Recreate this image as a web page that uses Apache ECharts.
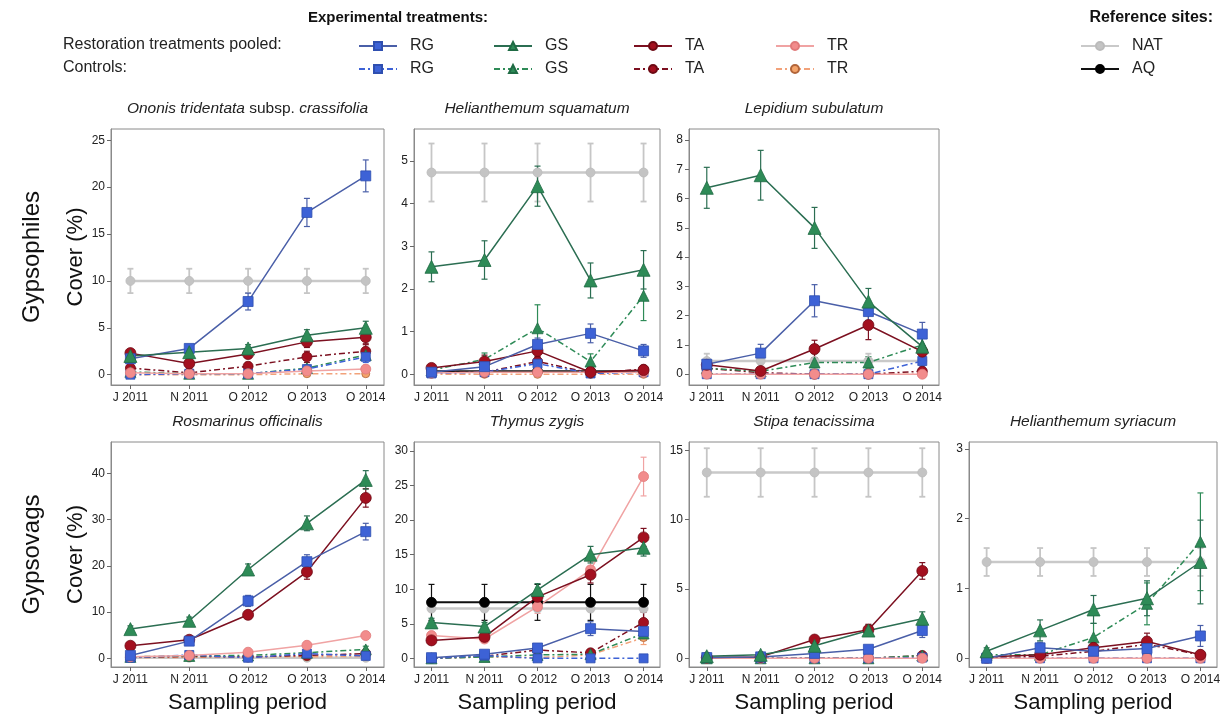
<!DOCTYPE html>
<html>
<head>
<meta charset="utf-8">
<script src="https://cdn.jsdelivr.net/npm/echarts@6/dist/echarts.min.js"></script>
<style>
html,body{margin:0;padding:0;background:#fff}
#chart{width:1225px;height:717px}
</style>
</head>
<body>
<div id="chart"></div>
<script>
// Sampling periods (x axis)
const periods = ['J 2011', 'N 2011', 'O 2012', 'O 2013', 'O 2014'];

// Row order of every mean / SE table below
const groupKeys = ['RG', 'GS', 'TA', 'TR', 'RGc', 'GSc', 'TAc', 'TRc', 'NAT', 'AQ'];

// ---- Ononis tridentata subsp. crassifolia ----
const ononisTicks = [0, 5, 10, 15, 20, 25];
const ononisMean = [
  [1.7, 2.8, 7.8, 17.3, 21.2],
  [2.0, 2.4, 2.8, 4.2, 5.0],
  [2.3, 1.2, 2.2, 3.5, 4.0],
  [0.2, 0.1, 0.1, 0.4, 0.6],
  [0.0, 0.1, 0.1, 0.6, 1.9],
  [0.3, 0.1, 0.1, 0.7, 2.1],
  [0.7, 0.2, 0.9, 1.9, 2.5],
  [0.0, 0.0, 0.0, 0.1, 0.1],
  [10.0, 10.0, 10.0, 10.0, 10.0],
  null
];
const ononisSE = [
  [0.4, 0.4, 0.9, 1.5, 1.7],
  [0.3, 0.3, 0.4, 0.6, 0.7],
  [0.3, 0.3, 0.4, 0.6, 0.7],
  [0.1, 0.1, 0.1, 0.2, 0.2],
  [0.0, 0.05, 0.1, 0.3, 0.6],
  [0.2, 0.1, 0.1, 0.3, 0.5],
  [0.3, 0.1, 0.4, 0.6, 0.7],
  [0, 0, 0, 0, 0],
  [1.3, 1.3, 1.3, 1.3, 1.3],
  null
];

// ---- Helianthemum squamatum ----
const squamatumTicks = [0, 1, 2, 3, 4, 5];
const squamatumMean = [
  [0.05, 0.18, 0.70, 0.96, 0.55],
  [2.52, 2.68, 4.41, 2.20, 2.45],
  [0.15, 0.30, 0.55, 0.05, 0.10],
  [0.03, 0.05, 0.05, 0.05, 0.05],
  [0.02, 0.05, 0.25, 0.02, 0.05],
  [0.10, 0.35, 1.08, 0.30, 1.84],
  [0.05, 0.05, 0.30, 0.03, 0.12],
  [0, 0, 0, 0, 0],
  [4.73, 4.73, 4.73, 4.73, 4.73],
  [0.07, 0.07, 0.07, 0.07, 0.07]
];
const squamatumSE = [
  [0.03, 0.10, 0.15, 0.22, 0.15],
  [0.35, 0.45, 0.47, 0.41, 0.45],
  [0.08, 0.15, 0.15, 0.05, 0.08],
  [0, 0, 0, 0, 0],
  [0, 0, 0.1, 0, 0],
  [0.08, 0.15, 0.55, 0.18, 0.58],
  [0, 0, 0.12, 0, 0.05],
  [0, 0, 0, 0, 0],
  [0.68, 0.68, 0.68, 0.68, 0.68],
  [0, 0, 0, 0, 0]
];

// ---- Lepidium subulatum ----
const lepidiumTicks = [0, 1, 2, 3, 4, 5, 6, 7, 8];
const lepidiumMean = [
  [0.34, 0.72, 2.51, 2.14, 1.37],
  [6.37, 6.80, 5.00, 2.48, 0.94],
  [0.32, 0.11, 0.86, 1.68, 0.77],
  [0, 0, 0, 0, 0],
  [0, 0, 0, 0, 0.45],
  [0.20, 0.10, 0.40, 0.40, 1.00],
  [0.20, 0.05, 0.00, 0.00, 0.10],
  [0, 0, 0, 0, 0],
  [0.45, 0.45, 0.45, 0.45, 0.45],
  null
];
const lepidiumSE = [
  [0.10, 0.30, 0.55, 0.30, 0.40],
  [0.70, 0.85, 0.70, 0.45, 0.30],
  [0.10, 0.05, 0.30, 0.50, 0.20],
  [0, 0, 0, 0, 0],
  [0, 0, 0, 0, 0.2],
  [0.1, 0.05, 0.15, 0.2, 0.3],
  [0.1, 0, 0, 0, 0.05],
  [0, 0, 0, 0, 0],
  [0.25, 0.25, 0.25, 0.25, 0.25],
  null
];

// ---- Rosmarinus officinalis ----
const rosmarinusTicks = [0, 10, 20, 30, 40];
const rosmarinusMean = [
  [0.6, 3.7, 12.4, 20.9, 27.4],
  [6.3, 8.1, 19.2, 29.2, 38.6],
  [2.7, 4.0, 9.4, 18.7, 34.7],
  [0.3, 0.6, 1.3, 2.8, 4.9],
  [0.1, 0.7, 0.1, 1.0, 0.5],
  [0.3, 0.5, 0.6, 1.2, 1.9],
  [0.2, 0.4, 0.3, 0.6, 1.0],
  [0.1, 0.2, 0.3, 0.3, 0.4],
  [0.1, 0.1, 0.1, 0.1, 0.1],
  null
];
const rosmarinusSE = [
  [0.3, 0.5, 1.2, 1.5, 1.8],
  [0.7, 0.8, 1.2, 1.6, 2.0],
  [0.4, 0.5, 0.8, 1.6, 2.0],
  [0.2, 0.3, 0.4, 0.6, 0.8],
  [0, 0.3, 0, 0.4, 0.3],
  [0.2, 0.2, 0.3, 0.5, 0.7],
  [0.1, 0.2, 0.2, 0.3, 0.4],
  [0, 0, 0, 0, 0],
  [0, 0, 0, 0, 0],
  null
];

// ---- Thymus zygis ----
const thymusTicks = [0, 5, 10, 15, 20, 25, 30];
const thymusMean = [
  [0.1, 0.6, 1.5, 4.3, 3.9],
  [5.2, 4.6, 9.9, 15.0, 16.0],
  [2.6, 3.1, 8.9, 12.1, 17.5],
  [3.3, 2.8, 7.5, 12.8, 26.3],
  [0.0, 0.4, 0.0, 0.0, 0.0],
  [0.0, 0.2, 0.5, 0.6, 3.6],
  [0.0, 0.3, 1.2, 0.8, 5.2],
  [0.0, 0.2, 0.1, 0.5, 3.0],
  [7.2, 7.2, 7.2, 7.2, 7.2],
  [8.1, 8.1, 8.1, 8.1, 8.1]
];
const thymusSE = [
  [0.1, 0.3, 0.5, 1.0, 0.9],
  [0.6, 0.6, 0.9, 1.2, 1.2],
  [0.5, 0.5, 0.9, 1.2, 1.3],
  [0.5, 0.5, 1.0, 1.2, 2.8],
  [0, 0.2, 0, 0, 0],
  [0, 0.1, 0.2, 0.3, 1.0],
  [0, 0.1, 0.4, 0.3, 1.5],
  [0, 0.1, 0.1, 0.3, 1.0],
  [0.4, 0.4, 0.4, 0.4, 0.4],
  [2.6, 2.6, 2.6, 2.6, 2.6]
];

// ---- Stipa tenacissima ----
const stipaTicks = [0, 5, 10, 15];
const stipaMean = [
  [0.05, 0.10, 0.35, 0.65, 2.00],
  [0.15, 0.25, 0.90, 2.00, 2.85],
  [0.05, 0.10, 1.35, 2.05, 6.30],
  [0, 0, 0, 0, 0],
  [0, 0, 0, 0, 0.05],
  [0, 0, 0, 0, 0.20],
  [0, 0, 0, 0, 0.20],
  [0, 0, 0, 0, 0],
  [13.4, 13.4, 13.4, 13.4, 13.4],
  null
];
const stipaSE = [
  [0.03, 0.05, 0.15, 0.25, 0.50],
  [0.08, 0.10, 0.25, 0.40, 0.50],
  [0.03, 0.05, 0.25, 0.40, 0.60],
  [0, 0, 0, 0, 0],
  [0, 0, 0, 0, 0],
  [0, 0, 0, 0, 0.15],
  [0, 0, 0, 0, 0.15],
  [0, 0, 0, 0, 0],
  [1.75, 1.75, 1.75, 1.75, 1.75],
  null
];

// ---- Helianthemum syriacum ----
const syriacumTicks = [0, 1, 2, 3];
const syriacumMean = [
  [0.00, 0.15, 0.10, 0.14, 0.32],
  [0.10, 0.40, 0.70, 0.86, 1.38],
  [0.02, 0.05, 0.15, 0.24, 0.05],
  [0, 0, 0, 0, 0],
  [0, 0, 0, 0, 0],
  [0.05, 0.05, 0.30, 0.78, 1.67],
  [0.00, 0.03, 0.10, 0.20, 0.05],
  [0, 0, 0, 0, 0],
  [1.38, 1.38, 1.38, 1.38, 1.38],
  null
];
const syriacumSE = [
  [0, 0.08, 0.08, 0.10, 0.15],
  [0.05, 0.15, 0.20, 0.25, 0.60],
  [0.02, 0.03, 0.08, 0.12, 0.03],
  [0, 0, 0, 0, 0],
  [0, 0, 0, 0, 0],
  [0.03, 0.03, 0.20, 0.30, 0.70],
  [0, 0, 0.05, 0.1, 0.03],
  [0, 0, 0, 0, 0],
  [0.20, 0.20, 0.20, 0.20, 0.20],
  null
];

// ---------------- drawing ----------------
const FONT = '"Liberation Sans", Arial, Helvetica, sans-serif';

// grid boxes: column lefts / widths, row tops / heights
const colLeft = [111, 414, 689, 969];
const colWidth = [273, 246, 250, 248];
const rowTop = [129, 442];
const rowHeight = [256, 225];

const panels = [
  { row: 0, col: 0, mean: ononisMean, se: ononisSE, ticks: ononisTicks, yMin: -1.1, yMax: 26.2,
    title: '{i|Ononis tridentata} subsp. {i|crassifolia}' },
  { row: 0, col: 1, mean: squamatumMean, se: squamatumSE, ticks: squamatumTicks, yMin: -0.25, yMax: 5.75,
    title: '{i|Helianthemum squamatum}' },
  { row: 0, col: 2, mean: lepidiumMean, se: lepidiumSE, ticks: lepidiumTicks, yMin: -0.37, yMax: 8.38,
    title: '{i|Lepidium subulatum}' },
  { row: 1, col: 0, mean: rosmarinusMean, se: rosmarinusSE, ticks: rosmarinusTicks, yMin: -1.9, yMax: 46.8,
    title: '{i|Rosmarinus officinalis}' },
  { row: 1, col: 1, mean: thymusMean, se: thymusSE, ticks: thymusTicks, yMin: -1.25, yMax: 31.3,
    title: '{i|Thymus zygis}' },
  { row: 1, col: 2, mean: stipaMean, se: stipaSE, ticks: stipaTicks, yMin: -0.63, yMax: 15.6,
    title: '{i|Stipa tenacissima}' },
  { row: 1, col: 3, mean: syriacumMean, se: syriacumSE, ticks: syriacumTicks, yMin: -0.125, yMax: 3.1,
    title: '{i|Helianthemum syriacum}' }
];

// look of every group
const groupStyle = {
  RG:  { name: 'RG',   marker: '#3D62D6', line: '#4A5FA8', border: '#2F4FB0', symbol: 'rect',     size: 10, dash: 'solid' },
  GS:  { name: 'GS',   marker: '#2E8B57', line: '#2B6E52', border: '#1F6B44', symbol: 'triangle', size: 13, dash: 'solid' },
  TA:  { name: 'TA',   marker: '#A3101F', line: '#7C1020', border: '#6E0A14', symbol: 'circle',   size: 11, dash: 'solid' },
  TR:  { name: 'TR',   marker: '#F28C8C', line: '#F0A3A3', border: '#E07A7A', symbol: 'circle',   size: 10, dash: 'solid' },
  RGc: { name: 'RG ',  marker: '#3D62D6', line: '#3D62D6', border: '#2F4FB0', symbol: 'rect',     size: 9,  dash: [6, 3, 2, 3] },
  GSc: { name: 'GS ',  marker: '#2E8B57', line: '#2E8B57', border: '#1F6B44', symbol: 'triangle', size: 11, dash: [6, 3, 2, 3] },
  TAc: { name: 'TA ',  marker: '#A3101F', line: '#7C1020', border: '#6E0A14', symbol: 'circle',   size: 10, dash: [6, 3, 2, 3] },
  TRc: { name: 'TR ',  marker: '#F4A46A', line: '#F2A27A', border: '#B2653A', symbol: 'circle',   size: 8,  dash: [6, 3, 2, 3] },
  NAT: { name: 'NAT',  marker: '#C4C4C4', line: '#C9C9C9', border: '#BBBBBB', symbol: 'circle',   size: 9,  dash: 'solid', width: 2.5 },
  AQ:  { name: 'AQ',   marker: '#000000', line: '#111111', border: '#000000', symbol: 'circle',   size: 10, dash: 'solid', width: 2 }
};

// drawing order inside a panel (first = underneath)
const drawOrder = ['NAT', 'AQ', 'TRc', 'TAc', 'GSc', 'RGc', 'TR', 'TA', 'RG', 'GS'];

const grids = [], xAxes = [], yAxes = [], series = [], graphics = [];

function errorRenderer(color, capHalf, width) {
  return function (params, api) {
    const x = api.value(0);
    const top = api.coord([x, api.value(2)]);
    const bot = api.coord([x, api.value(1)]);
    const st = { stroke: color, lineWidth: width, fill: null };
    return {
      type: 'group',
      children: [
        { type: 'line', shape: { x1: top[0], y1: top[1], x2: bot[0], y2: bot[1] }, style: st },
        { type: 'line', shape: { x1: top[0] - capHalf, y1: top[1], x2: top[0] + capHalf, y2: top[1] }, style: st },
        { type: 'line', shape: { x1: bot[0] - capHalf, y1: bot[1], x2: bot[0] + capHalf, y2: bot[1] }, style: st }
      ]
    };
  };
}

panels.forEach((p, i) => {
  const left = colLeft[p.col], top = rowTop[p.row];
  const w = colWidth[p.col], h = rowHeight[p.row];
  grids.push({ left, top, width: w, height: h, show: true, borderColor: '#8a8a8a', borderWidth: 1, backgroundColor: 'transparent' });

  xAxes.push({
    gridIndex: i, type: 'value', min: 0.67, max: 5.31,
    axisLine: { show: true, onZero: false, lineStyle: { color: '#8a8a8a' } },
    splitLine: { show: false },
    axisTick: { show: true, customValues: [1, 2, 3, 4, 5], length: 4, lineStyle: { color: '#666' } },
    axisLabel: { customValues: [1, 2, 3, 4, 5], formatter: v => periods[Math.round(v) - 1], fontSize: 12, color: '#222', fontFamily: FONT, margin: 7 },
    name: p.row === 1 ? 'Sampling period' : '',
    nameLocation: 'middle', nameGap: 25,
    nameTextStyle: { fontSize: 22, color: '#111', fontFamily: FONT }
  });

  yAxes.push({
    gridIndex: i, type: 'value', min: p.yMin, max: p.yMax,
    axisLine: { show: true, onZero: false, lineStyle: { color: '#8a8a8a' } },
    splitLine: { show: false },
    axisTick: { show: true, customValues: p.ticks, length: 4, lineStyle: { color: '#666' } },
    axisLabel: { customValues: p.ticks, fontSize: 12, color: '#222', fontFamily: FONT, margin: 6 },
    name: p.col === 0 ? 'Cover (%)' : '',
    nameLocation: 'middle', nameGap: 24,
    nameTextStyle: { fontSize: 22, color: '#111', fontFamily: FONT }
  });

  // panel title
  graphics.push({
    type: 'text', x: left + w / 2, y: top - 20,
    style: {
      text: p.title, x: 0, y: 0, align: 'center', verticalAlign: 'middle',
      font: '15.5px ' + FONT, fill: '#222',
      rich: { i: { fontStyle: 'italic', fontSize: 15.5, fontFamily: FONT, fill: '#222' } }
    }
  });

  drawOrder.forEach(key => {
    const gi = groupKeys.indexOf(key);
    const m = p.mean[gi];
    if (!m) return;
    const s = p.se[gi];
    const g = groupStyle[key];
    const bars = [];
    m.forEach((v, k) => { if (s && s[k] > 0) bars.push([k + 1, v - s[k], v + s[k]]); });
    if (bars.length) {
      series.push({
        type: 'custom', xAxisIndex: i, yAxisIndex: i, silent: true,
        renderItem: errorRenderer(key === 'NAT' ? '#C6C6C6' : (key === 'AQ' ? '#111' : g.line), 3, key === 'NAT' ? 1.8 : 1.2),
        encode: { x: 0, y: [1, 2] },
        data: bars
      });
    }
    series.push({
      type: 'line', name: g.name, xAxisIndex: i, yAxisIndex: i,
      data: m.map((v, k) => [k + 1, v]),
      symbol: g.symbol, symbolSize: g.size,
      showAllSymbol: true,
      lineStyle: { color: g.line, width: g.width || 1.5, type: g.dash },
      itemStyle: { color: g.marker, borderColor: g.border, borderWidth: 0.8 }
    });
  });
});

// row labels
graphics.push({ type: 'text', x: 32, y: rowTop[0] + rowHeight[0] / 2, rotation: Math.PI / 2,
  style: { text: 'Gypsophiles', x: 0, y: 0, align: 'center', verticalAlign: 'middle', font: '24px ' + FONT, fill: '#111' } });
graphics.push({ type: 'text', x: 32, y: rowTop[1] + rowHeight[1] / 2, rotation: Math.PI / 2,
  style: { text: 'Gypsovags', x: 0, y: 0, align: 'center', verticalAlign: 'middle', font: '24px ' + FONT, fill: '#111' } });

// legend headings and row captions
graphics.push({ type: 'text', x: 398, y: 18,
  style: { text: 'Experimental treatments:', x: 0, y: 0, align: 'center', verticalAlign: 'middle', font: 'bold 15px ' + FONT, fill: '#111' } });
graphics.push({ type: 'text', x: 1213, y: 18,
  style: { text: 'Reference sites:', x: 0, y: 0, align: 'right', verticalAlign: 'middle', font: 'bold 16px ' + FONT, fill: '#111' } });
graphics.push({ type: 'text', x: 63, y: 45,
  style: { text: 'Restoration treatments pooled:', x: 0, y: 0, align: 'left', verticalAlign: 'middle', font: '16px ' + FONT, fill: '#222' } });
graphics.push({ type: 'text', x: 63, y: 68,
  style: { text: 'Controls:', x: 0, y: 0, align: 'left', verticalAlign: 'middle', font: '16px ' + FONT, fill: '#222' } });

// legend entries
const legendSlots = [
  ['RG', 353, 0], ['GS', 488, 0], ['TA', 628, 0], ['TR', 770, 0],
  ['RG ', 353, 1], ['GS ', 488, 1], ['TA ', 628, 1], ['TR ', 770, 1],
  ['NAT', 1075, 0], ['AQ', 1075, 1]
];
const legends = legendSlots.map(([name, x, r]) => ({
  data: [name], left: x, top: r === 0 ? 33 : 56,
  orient: 'horizontal', selectedMode: false,
  itemWidth: 38, itemHeight: 10,
  formatter: n => n.trim(),
  textStyle: { fontSize: 16, color: '#222', fontFamily: FONT, padding: [0, 0, 0, 8] }
}));

const chart = echarts.init(document.getElementById('chart'), null, { renderer: 'canvas' });
chart.setOption({
  animation: false,
  backgroundColor: '#ffffff',
  textStyle: { fontFamily: FONT },
  grid: grids,
  xAxis: xAxes,
  yAxis: yAxes,
  legend: legends,
  graphic: graphics,
  series: series
});
</script>
</body>
</html>
